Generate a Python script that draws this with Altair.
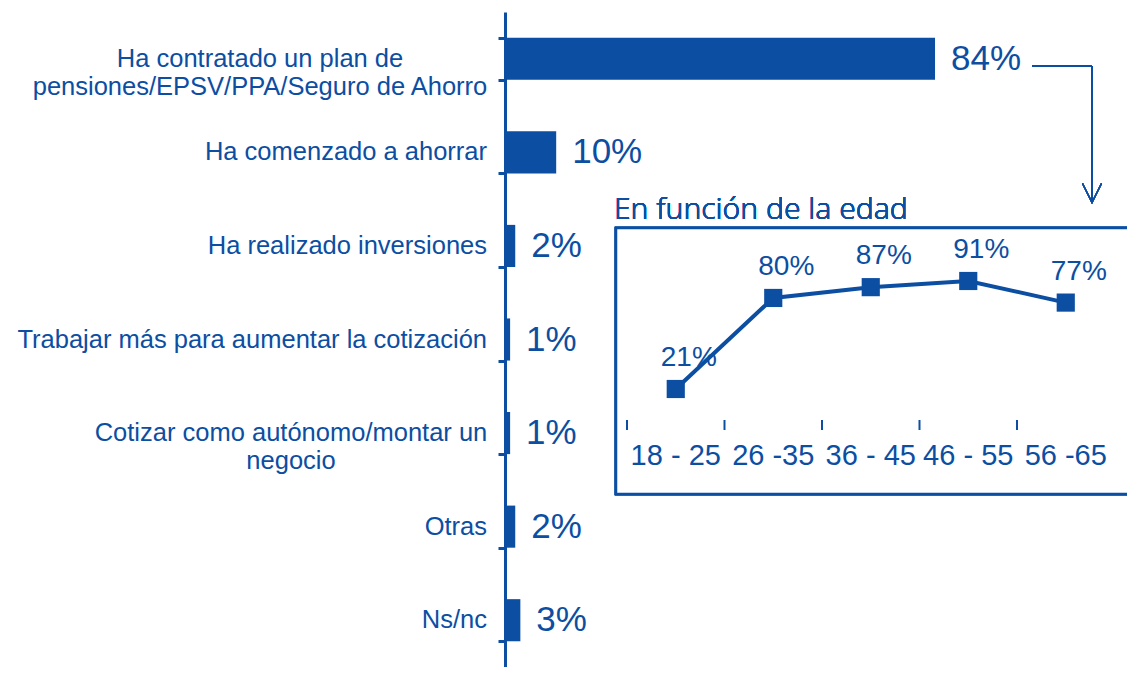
import altair as alt
import pandas as pd

BLUE = "#0B4EA2"

categorias = [
    "Ha contratado un plan de\npensiones/EPSV/PPA/Seguro de Ahorro",
    "Ha comenzado a ahorrar",
    "Ha realizado inversiones",
    "Trabajar más para aumentar la cotización",
    "Cotizar como autónomo/montar un\nnegocio",
    "Otras",
    "Ns/nc",
]
valores = [84, 10, 2, 1, 1, 2, 3]

edades = ["18 - 25", "26 -35", "36 - 45", "46 - 55", "56 -65"]
pct_edad = [21, 80, 87, 91, 77]

bars_df = pd.DataFrame({"cat": categorias, "valor": valores,
                        "lbl": [f"{v}%" for v in valores]})
line_df = pd.DataFrame({"edad": edades, "pct": pct_edad,
                        "lbl": [f"{v}%" for v in pct_edad]})

W, H = 622, 655

yb = alt.Y("cat:N", sort=categorias,
           scale=alt.Scale(paddingInner=0.55, paddingOuter=0.275),
           axis=alt.Axis(labels=False, title=None, tickBand="extent",
                         domainColor=BLUE, domainWidth=3, tickColor=BLUE,
                         tickWidth=3, tickSize=7, grid=False))
xb = alt.X("valor:Q", scale=alt.Scale(domain=[0, 121.5], nice=False), axis=None)
yb2 = alt.Y("cat:N", sort=categorias)

bars = alt.Chart(bars_df).mark_bar(color=BLUE).encode(x=xb, y=yb)

txt_kw = dict(baseline="middle", lineBreak="\n", fontSize=25.5, lineHeight=28,
              font="Liberation Sans", color=BLUE)
single = alt.Chart(bars_df).transform_filter(
    "indexof(datum.cat, '\\n') < 0"
).mark_text(align="right", **txt_kw).encode(y=yb2, x=alt.value(-18), text="cat:N")
multi1 = alt.Chart(bars_df).transform_filter(
    alt.datum.cat == categorias[0]
).mark_text(align="center", **txt_kw).encode(y=yb2, x=alt.value(-245), text="cat:N")
multi2 = alt.Chart(bars_df).transform_filter(
    alt.datum.cat == categorias[4]
).mark_text(align="center", **txt_kw).encode(y=yb2, x=alt.value(-214), text="cat:N")

val_txt = alt.Chart(bars_df).mark_text(
    align="left", baseline="middle", dx=16, fontSize=35,
    font="Liberation Sans", fontWeight=300, color=BLUE
).encode(y=yb2, x=alt.X("valor:Q", axis=None), text="lbl:N")
bar_group = alt.layer(bars, single, multi1, multi2, val_txt)

# inset decorations
frame = alt.Chart(bars_df).mark_rect(fill="white", stroke=BLUE, strokeWidth=2.5).encode(
    x=alt.value(111), x2=alt.value(645), y=alt.value(216), y2=alt.value(482))
title = alt.Chart(bars_df).mark_text(
    align="left", baseline="alphabetic", fontSize=30, font="Noto Sans",
    fontWeight=300, color=BLUE
).encode(x=alt.value(109), y=alt.value(207), text=alt.value("En función de la edad"))
arrow_h = alt.Chart(bars_df).mark_rule(color=BLUE, strokeWidth=1.3).encode(
    x=alt.value(527), x2=alt.value(587), y=alt.value(54))
arrow_v = alt.Chart(bars_df).mark_rule(color=BLUE, strokeWidth=1.3).encode(
    x=alt.value(587), y=alt.value(54), y2=alt.value(190))
arrow_head = alt.Chart(bars_df).mark_point(
    shape="M-1,-1L0,1L1,-1", filled=False, color=BLUE, strokeWidth=1.3, size=360,
    opacity=1
).encode(x=alt.value(587), y=alt.value(181))

xscale = alt.Scale(type="band", range=[122, 609.5], paddingInner=0, paddingOuter=0)
xl = alt.X("edad:N", sort=edades, scale=xscale, axis=None, bandPosition=0.5)
xl2 = alt.X("edad:N", sort=edades, axis=None, bandPosition=0.5)
xl0 = alt.X("edad:N", sort=edades, axis=None, bandPosition=0)
yl = alt.Y("pct:Q", scale=alt.Scale(domain=[0, 100], range=[409.4, 255.1], nice=False,
                                    zero=False), axis=None)
yl2 = alt.Y("pct:Q", axis=None)
line = alt.Chart(line_df).mark_line(color=BLUE, strokeWidth=4).encode(x=xl, y=yl)
pts = alt.Chart(line_df).mark_point(shape="square", filled=True, size=330,
                                    color=BLUE, opacity=1).encode(x=xl2, y=yl2)
pt_txt = alt.Chart(line_df).mark_text(
    align="center", baseline="middle", dx=13, dy=-31, fontSize=28,
    font="Liberation Sans", color=BLUE
).encode(x=xl2, y=yl2, text="lbl:N")
ticks = alt.Chart(line_df).mark_rule(color=BLUE, strokeWidth=2).encode(
    x=xl0, y=alt.value(408), y2=alt.value(418))
age_txt = alt.Chart(line_df).mark_text(
    align="center", baseline="middle", fontSize=29, font="Liberation Sans", color=BLUE
).encode(x=xl2, y=alt.value(444), text="edad:N")
line_group = alt.layer(line, pts, pt_txt, ticks, age_txt)

chart = alt.layer(
    bar_group, frame, title, arrow_h, arrow_v, arrow_head, line_group
).resolve_scale(x="independent", y="independent").properties(
    width=W, height=H,
    autosize=alt.AutoSizeParams(type="none"),
    padding={"left": 497, "top": 4, "right": 0, "bottom": 0},
).configure(background="white").configure_view(stroke=None)

chart.save("out.html", embed_options={"renderer": "svg", "actions": False})
